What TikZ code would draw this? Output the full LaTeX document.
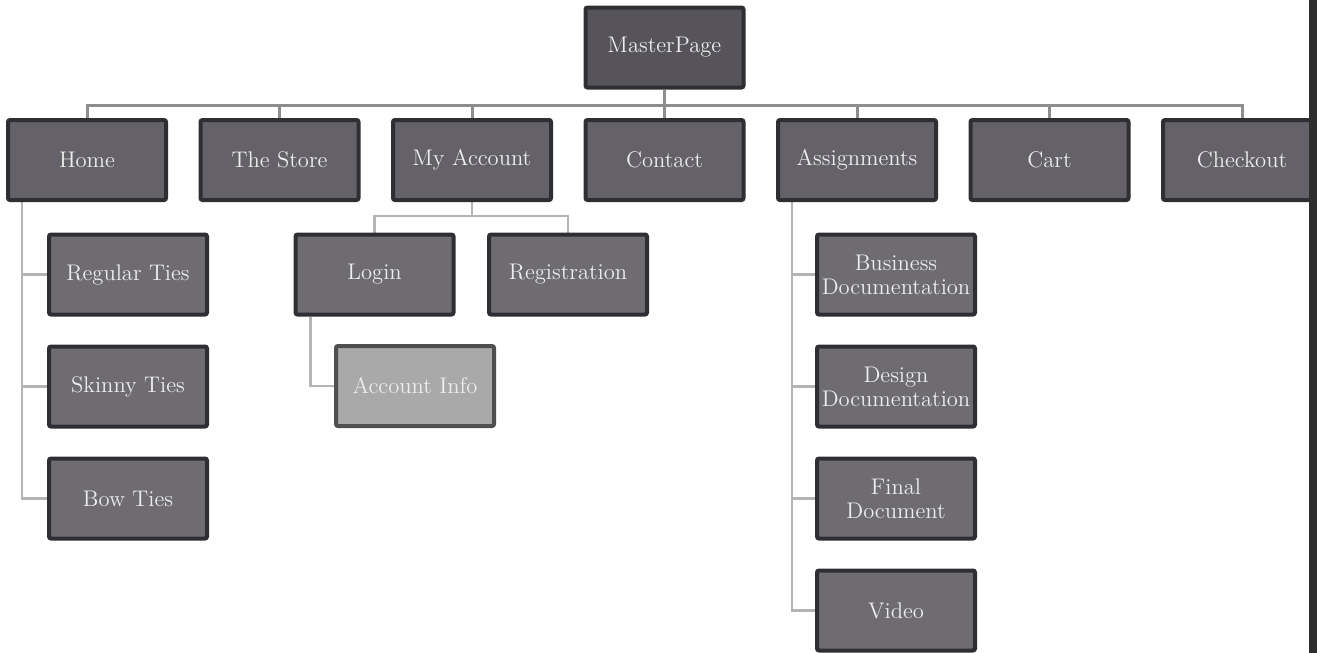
\documentclass[tikz,border=0pt]{standalone}
\usepackage{tikz}
\usetikzlibrary{backgrounds}
\definecolor{topfill}{HTML}{56545A}
\definecolor{boxfill}{HTML}{646268}
\definecolor{subfill}{HTML}{6E6C71}
\definecolor{boxedge}{HTML}{2F2E32}
\definecolor{linkgray}{HTML}{8E8E8E}
\definecolor{sublinkgray}{HTML}{B4B4B4}
\definecolor{infofill}{HTML}{A9A9A9}
\definecolor{infoedge}{HTML}{4F4F4F}

\begin{document}
\begin{tikzpicture}[x=0.5pt, y=-0.5pt,
  page/.style={draw=boxedge, line width=2pt, fill=boxfill, rounded corners=1pt,
    minimum width=79pt, minimum height=40pt, inner sep=2pt,
    text=white!93!black, align=center},
  subpage/.style={page, fill=subfill},
  link/.style={draw=linkgray, line width=1.5pt},
  sublink/.style={draw=sublinkgray, line width=1.4pt}]

  \fontsize{11.3}{12}\selectfont

  \useasboundingbox (0,0) rectangle (1317,653);
  \clip (0,0) rectangle (1317,653);

  \newcommand\X{192.5}
  \newcommand\Y{112}

  % top
  \node[page, fill=topfill] (master) at (664.5, 47.5) {MasterPage};

  % first level
  \node[page] (home)    at (87+0*\X, 160) {Home};
  \node[page] (store)   at (87+1*\X, 160) {The Store};
  \node[page] (account) at (87+2*\X, 160) {My Account};
  \node[page] (contact) at (87+3*\X, 160) {Contact};
  \node[page] (assign)  at (87+4*\X, 160) {Assignments};
  \node[page] (cart)    at (87+5*\X, 160) {Cart};
  \node[page] (checkout) at (87+6*\X, 160) {Checkout};

  % under Home
  \node[subpage] (regular) at (128, 274.5+0*\Y) {Regular Ties};
  \node[subpage] (skinny)  at (128, 274.5+1*\Y) {Skinny Ties};
  \node[subpage] (bow)     at (128, 274.5+2*\Y) {Bow Ties};

  % under My Account
  \node[subpage] (login) at (374.5, 274.5) {Login};
  \node[subpage] (register) at (568, 274.5) {Registration};
  \node[subpage, fill=infofill, draw=infoedge] (info) at (415, 386) {Account Info};

  % under Assignments
  \node[subpage] (business) at (896, 274.5+0*\Y) {Business\\Documentation};
  \node[subpage] (design)   at (896, 274.5+1*\Y) {Design\\Documentation};
  \node[subpage] (final)    at (896, 274.5+2*\Y) {Final\\Document};
  \node[subpage] (video)    at (896, 274.5+3*\Y) {Video};

  \begin{scope}[on background layer]
    \foreach \n in {home,store,account,contact,assign,cart,checkout}
      \draw[link] (master.south) -- ++(0,16) -| (\n.north); %% master->row

    \foreach \n in {regular,skinny,bow}
      \draw[sublink] ([xshift=8pt]home.south west) |- (\n.west); %% home->ties

    \draw[sublink] (account.south) -- ++(0,14) -| (login.north);
    \draw[sublink] (account.south) -- ++(0,14) -| (register.north);
    \draw[sublink] ([xshift=8.5pt]login.south west) |- (info.west); %% login->info

    \foreach \n in {business,design,final,video}
      \draw[sublink] ([xshift=8pt]assign.south west) |- (\n.west); %% assign->docs
  \end{scope}

  % dark edge on the right
  \fill[black!82] (1309,0) rectangle (1317,653);
\end{tikzpicture}
\end{document}
